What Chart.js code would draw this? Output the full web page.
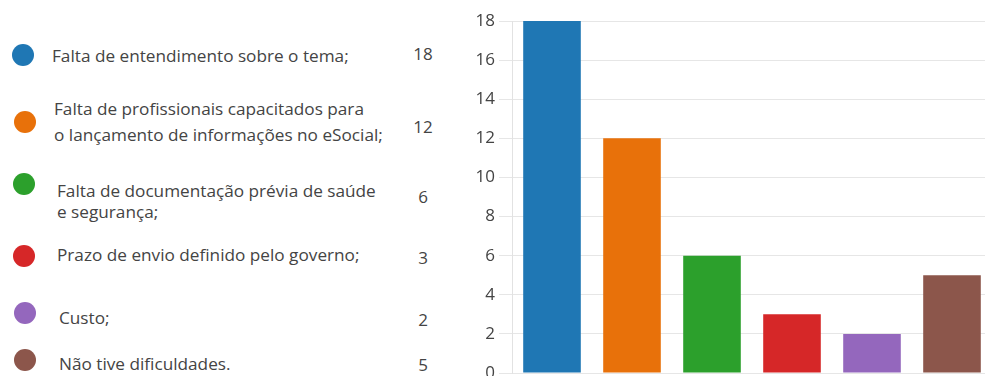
<!DOCTYPE html>
<html>
<head>
<meta charset="utf-8">
<script src="https://cdn.jsdelivr.net/npm/chart.js@4"></script>
<style>
  html, body { margin: 0; padding: 0; background: #fff; overflow: hidden; }
  body { width: 985px; height: 376px; position: relative; font-family: "Open Sans", sans-serif; color: #444; }
  .dot { position: absolute; width: 22px; height: 22px; border-radius: 50%; }
  .line { position: absolute; font-size: 17.2px; line-height: 24px; white-space: nowrap; }
  .val { position: absolute; font-size: 17px; line-height: 24px; width: 40px; text-align: center; }
  #wrap { position: absolute; left: 440px; top: 0; width: 552px; height: 400px; }
</style>
</head>
<body>
<div id="legend"></div>
<div id="wrap"><canvas id="chart"></canvas></div>
<script>
// answers, one line per entry in the left list
const labels = [
  ["Falta de entendimento sobre o tema;"],
  ["Falta de profissionais capacitados para", "o lançamento de informações no eSocial;"],
  ["Falta de documentação prévia de saúde", "e segurança;"],
  ["Prazo de envio definido pelo governo;"],
  ["Custo;"],
  ["Não tive dificuldades."]
];
const counts = [18, 12, 6, 3, 2, 5];
const colors = ['#1f77b4', '#e8710a', '#2ca02c', '#d62728', '#9467bd', '#8c564b'];
const yTicks = [0, 2, 4, 6, 8, 10, 12, 14, 16, 18];

// where each legend row sits (the source is a pasted screenshot, spacing is uneven)
const dotPos = [[23, 55], [25, 122], [24, 184], [24, 256], [25, 313], [25, 360]];
const textX = [52, 54, 57, 57, 59, 59];
const lineY = [[57], [110, 136], [192, 213], [256], [319], [365]];
const valY = [55, 128, 198, 259, 321, 366];

const legend = document.getElementById('legend');
labels.forEach((lines, i) => {
  const d = document.createElement('div');
  d.className = 'dot';
  d.style.background = colors[i];
  d.style.left = (dotPos[i][0] - 11) + 'px';
  d.style.top = (dotPos[i][1] - 11) + 'px';
  legend.appendChild(d);
  lines.forEach((t, j) => {
    const l = document.createElement('div');
    l.className = 'line';
    l.textContent = t;
    l.style.left = textX[i] + 'px';
    l.style.top = (lineY[i][j] - 13) + 'px';
    legend.appendChild(l);
  });
  const v = document.createElement('div');
  v.className = 'val';
  v.textContent = counts[i];
  v.style.left = (423 - 20) + 'px';
  v.style.top = (valY[i] - 13) + 'px';
  legend.appendChild(v);
});

new Chart(document.getElementById('chart'), {
  type: 'bar',
  data: {
    labels: labels,
    datasets: [{
      data: counts,
      backgroundColor: colors,
      borderWidth: 0
    }]
  },
  options: {
    responsive: true,
    maintainAspectRatio: false,
    animation: false,
    layout: { padding: { top: 21, bottom: 27, left: 0, right: 0 } },
    plugins: { legend: { display: false }, tooltip: { enabled: false } },
    scales: {
      x: { display: false },
      y: {
        min: 0,
        max: 18,
        afterBuildTicks: s => { s.ticks = yTicks.map(v => ({ value: v })); },
        afterFit: s => { s.width = 72; },
        grid: { color: '#e6e6e6', tickLength: 13 },
        border: { display: true, color: '#e2e2e2' },
        ticks: { padding: 4, color: '#444', font: { family: 'Open Sans', size: 17 } }
      }
    }
  }
});
</script>
</body>
</html>
